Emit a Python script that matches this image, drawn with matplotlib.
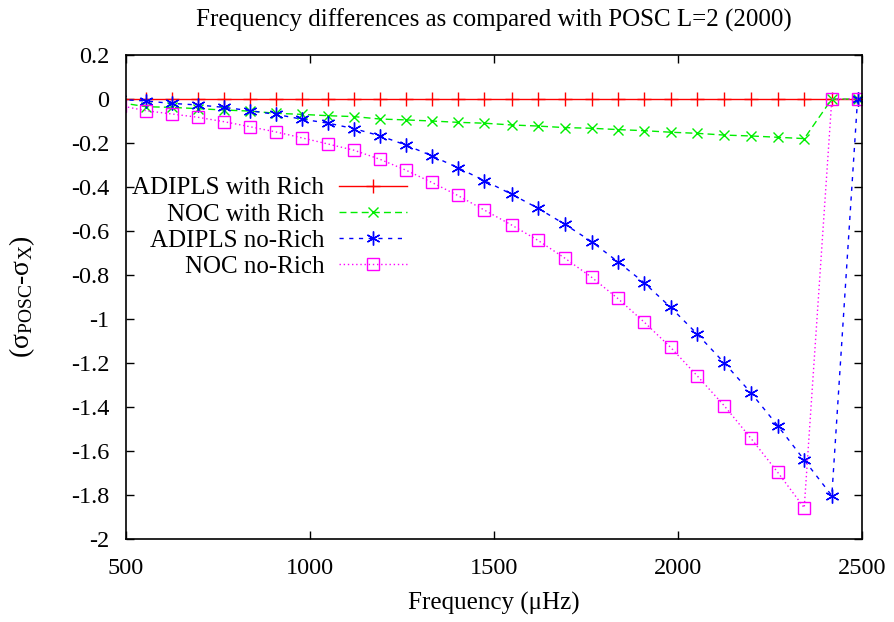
import matplotlib
matplotlib.use("Agg")
import matplotlib.pyplot as plt
from matplotlib.ticker import FixedLocator, FuncFormatter

plt.rcParams['font.family'] = ['Liberation Serif', 'DejaVu Serif']
plt.rcParams['mathtext.fontset'] = 'custom'
plt.rcParams['mathtext.rm'] = 'Liberation Serif'
plt.rcParams['mathtext.it'] = 'Liberation Serif:italic'

freq = [483, 554, 624, 695, 766, 837, 908, 979, 1050, 1120, 1190, 1260, 1331, 1401,
        1474, 1548, 1620, 1693, 1765, 1836, 1908, 1980, 2052, 2126, 2198, 2271,
        2343, 2418, 2488]

adipls_rich = [0.0] * len(freq)

noc_rich = [-0.016, -0.035, -0.038, -0.044, -0.050, -0.055, -0.065, -0.070, -0.076,
            -0.080, -0.091, -0.095, -0.100, -0.106, -0.110, -0.118, -0.123, -0.130,
            -0.133, -0.139, -0.144, -0.151, -0.156, -0.164, -0.168, -0.174, -0.180,
            0.0, 0.0]

adipls_norich = [-0.002, -0.009, -0.020, -0.027, -0.038, -0.053, -0.070, -0.092, -0.110,
                 -0.135, -0.167, -0.209, -0.258, -0.312, -0.371, -0.433, -0.497, -0.570,
                 -0.648, -0.739, -0.835, -0.947, -1.068, -1.200, -1.335, -1.485, -1.641,
                 -1.803, 0.0]

noc_norich = [-0.030, -0.053, -0.068, -0.083, -0.103, -0.126, -0.150, -0.177, -0.205,
              -0.233, -0.274, -0.323, -0.379, -0.438, -0.505, -0.573, -0.643, -0.724,
              -0.810, -0.906, -1.014, -1.129, -1.258, -1.395, -1.542, -1.697, -1.858,
              0.0, 0.0]

labels = ["ADIPLS with Rich", "NOC with Rich", "ADIPLS no-Rich", "NOC no-Rich"]
xticks = [500, 1000, 1500, 2000, 2500]
yticks = [0.2, 0.0, -0.2, -0.4, -0.6, -0.8, -1.0, -1.2, -1.4, -1.6, -1.8, -2.0]

fig = plt.figure(figsize=(8.95, 6.22), dpi=100)
ax = fig.add_axes([126/895, 1-539/622, (862-126)/895, (539-55)/622])

ax.plot(freq, adipls_rich, color='#ff0000', lw=1.0, ls='-', marker='+', ms=10, mew=1.0,
        label=labels[0])
ax.plot(freq, noc_rich, color='#00ee00', lw=1.0, ls=(0, (5, 3)), marker='x', ms=7.5, mew=1.0,
        label=labels[1])
ax.plot(freq, adipls_norich, color='#0000ff', lw=1.0, ls=(0, (3, 4)), marker=(6, 2, 0), ms=10,
        mew=1.0, label=labels[2])
ax.plot(freq, noc_norich, color='#ff00ff', lw=1.0, ls=(0, (1, 2)), marker='s', ms=8,
        mfc='none', mew=1.0, label=labels[3])

ax.set_xlim(500, 2500)
ax.set_ylim(-2.0, 0.2)
ax.xaxis.set_major_locator(FixedLocator(xticks))
ax.yaxis.set_major_locator(FixedLocator(yticks))

def fmt(v, pos):
    s = ('%.1f' % v)
    if s.endswith('.0'):
        s = s[:-2]
    if s == '-0':
        s = '0'
    return s

ax.yaxis.set_major_formatter(FuncFormatter(fmt))
ax.tick_params(direction='in', length=6, width=1.0, top=True, right=True,
               labelsize=17.5)
ax.tick_params(axis='x', pad=14)
ax.tick_params(axis='y', pad=12)
for sp in ax.spines.values():
    sp.set_linewidth(1.2)

fig.text(494/895, 1-20/622, "Frequency differences as compared with POSC L=2 (2000)",
         fontsize=18, ha='center', va='center')
ax.set_xlabel("Frequency (\u03bcHz)", fontsize=18)
ax.xaxis.set_label_coords(0.5, -(603-539)/484)
ax.set_ylabel(r"($\mathrm{\sigma_{POSC}}$-$\mathrm{\sigma_{X}}$)", fontsize=20)
ax.yaxis.set_label_coords(-(126-22)/736, 0.5)
ax.yaxis.label.set_va('center')
ax.xaxis.label.set_va('center')

leg = ax.legend(loc='upper right', bbox_to_anchor=((407-126)/736, 1-(177-55)/484),
                frameon=False, markerfirst=False, fontsize=18, handlelength=2.7,
                handletextpad=0.6, labelspacing=0.15, borderaxespad=0.0, borderpad=0.0)

fig.savefig("out.png", dpi=100)
